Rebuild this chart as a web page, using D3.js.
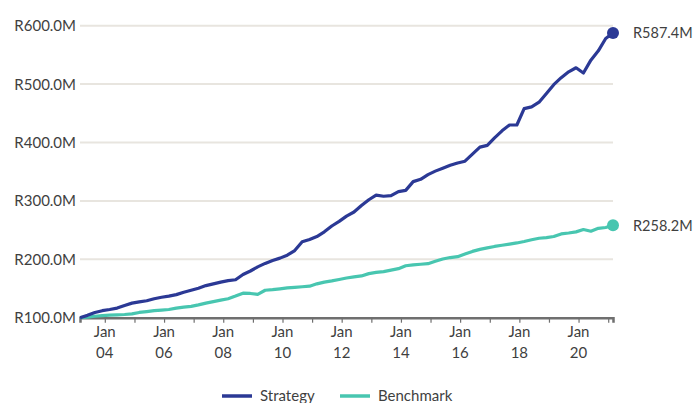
<!DOCTYPE html>
<html>
<head>
<meta charset="utf-8">
<script src="https://cdn.jsdelivr.net/npm/d3@7"></script>
<style>
  body { margin: 0; background: #fff; }
  text { font-family: Lato, "Open Sans", sans-serif; fill: #3f3f3f; }
</style>
</head>
<body>
<div id="chart"></div>
<script>
// Quarterly points, first one is March 2003, last one March 2021
var startDate = new Date(2003, 2, 1);

var strategy = [100, 104, 109, 112, 114, 116.5, 121, 125, 127, 129, 132.5, 135, 137, 139.5,
  143.5, 147, 150.5, 155, 158, 161, 163.5, 165, 174, 180, 187, 193, 198, 202, 207, 215,
  230, 234, 239, 247, 257, 265, 274, 281, 292, 302, 310, 308, 309, 316, 318, 333, 337,
  345, 351, 356, 361, 365, 368, 380, 392, 395, 408, 420, 430, 430, 458, 461, 469, 484,
  499, 511, 521, 528, 519, 541, 557, 578, 587.4];

var benchmark = [100, 101, 102.5, 103.5, 104.5, 105, 105.5, 106.5, 109, 110.5, 112, 113,
  114, 116.5, 118, 119.5, 122, 125, 127.5, 130, 132.5, 137, 142, 141.5, 140, 147, 148,
  149.5, 151, 152, 153, 154, 158, 161, 163, 165.5, 168, 170, 171.5, 175.5, 177.5, 179,
  181.5, 184, 189, 190.5, 191.5, 192.5, 196.5, 200.5, 203, 204.5, 209, 213.5, 217, 219.5,
  222, 224, 226, 228, 230.5, 233.5, 236, 237, 239, 243.5, 245, 247, 251, 248, 253, 254.5,
  258.2];

var yTicks = [100, 200, 300, 400, 500, 600];
var seriesNames = ["Strategy", "Benchmark"];
var colors = ["#2b3995", "#48c6b0"];

var dates = strategy.map(function(d, i) { return d3.timeMonth.offset(startDate, i * 3); });

var width = 695, height = 403;
var svg = d3.select("#chart").append("svg")
  .attr("width", width)
  .attr("height", height);

var x = d3.scaleTime()
  .domain(d3.extent(dates))
  .range([80, 613]);

var y = d3.scaleLinear()
  .domain([100, 600])
  .range([317.7, 25.7]);

var fmt = function(v) { return "R" + v.toFixed(1) + "M"; };

// grid lines + y labels
var grid = svg.append("g");
grid.selectAll("line")
  .data(yTicks.slice(1))
  .enter().append("line")
    .attr("x1", 80).attr("x2", 613)
    .attr("y1", function(d) { return y(d); })
    .attr("y2", function(d) { return y(d); })
    .attr("stroke", "#e8e5df")
    .attr("stroke-width", 2);

grid.selectAll("text")
  .data(yTicks)
  .enter().append("text")
    .attr("x", 76)
    .attr("y", function(d) { return y(d); })
    .attr("dy", "0.36em")
    .attr("text-anchor", "end")
    .attr("font-size", "15px")
    .text(fmt);

// x axis
var xAxis = svg.append("g")
  .attr("transform", "translate(0," + y(100) + ")")
  .call(d3.axisBottom(x)
    .ticks(d3.timeYear.every(1))
    .tickSize(5)
    .tickFormat(""));
xAxis.select(".domain").attr("stroke", "#6f6f6f").attr("stroke-width", 2.5);
xAxis.selectAll(".tick line").attr("stroke", "#6f6f6f").attr("stroke-width", 1.2);

var labelYears = x.ticks(d3.timeYear.every(2)).filter(function(d) { return d.getFullYear() % 2 === 0; });
var xl = svg.append("g").selectAll("g")
  .data(labelYears)
  .enter().append("g")
    .attr("transform", function(d) { return "translate(" + x(d) + ",0)"; });
xl.append("text")
  .attr("y", 337)
  .attr("text-anchor", "middle")
  .attr("font-size", "15px")
  .text("Jan");
xl.append("text")
  .attr("y", 358)
  .attr("text-anchor", "middle")
  .attr("font-size", "15px")
  .text(function(d) { return d3.timeFormat("%y")(d); });

// lines
var line = d3.line()
  .x(function(d, i) { return x(dates[i]); })
  .y(function(d) { return y(d); });

[benchmark, strategy].forEach(function(s, j) {
  var c = j === 0 ? colors[1] : colors[0];
  svg.append("path")
    .datum(s)
    .attr("fill", "none")
    .attr("stroke", c)
    .attr("stroke-width", 3.2)
    .attr("stroke-linejoin", "round")
    .attr("d", line);

  var last = s[s.length - 1];
  svg.append("circle")
    .attr("cx", x(dates[dates.length - 1]))
    .attr("cy", y(last))
    .attr("r", 6)
    .attr("fill", c);
  svg.append("text")
    .attr("x", 633)
    .attr("y", y(last))
    .attr("dy", "0.36em")
    .attr("font-size", "14.5px")
    .text(fmt(last));
});

// legend (sits at the bottom edge, partly cut like the source)
var legend = svg.append("g").selectAll("g")
  .data(seriesNames)
  .enter().append("g")
    .attr("transform", function(d, i) { return "translate(" + (i === 0 ? 222 : 340) + ",396)"; });
legend.append("line")
  .attr("x1", 0).attr("x2", 30)
  .attr("stroke", function(d, i) { return colors[i]; })
  .attr("stroke-width", 3.5);
legend.append("text")
  .attr("x", 38)
  .attr("dy", "0.36em")
  .attr("font-size", "15px")
  .text(function(d) { return d; });
</script>
</body>
</html>
